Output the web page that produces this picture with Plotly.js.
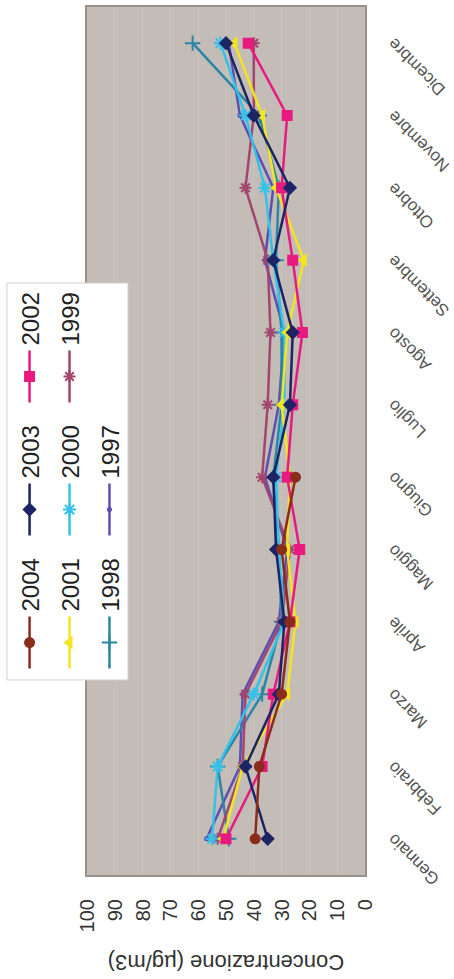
<!DOCTYPE html>
<html><head><meta charset="utf-8">
<script src="https://cdn.plot.ly/plotly-3.0.1.min.js"></script>
<style>
html,body{margin:0;padding:0;background:#fff;overflow:hidden;width:454px;height:979px;}
#chart{position:absolute;left:0;top:0;width:979px;height:454px;transform-origin:0 0;transform:translate(0,979px) rotate(-90deg);}
</style></head><body><div id="chart"></div><script>
var months = ["Gennaio","Febbraio","Marzo","Aprile","Maggio","Giugno","Luglio","Agosto","Settembre","Ottobre","Novembre","Dicembre"];
var y1997 = [57, 45, 44, 31, 28, 36, 31, 29, 36, 33, 45, 49];
var y1998 = [49, 53, 37, 30, 31, 33, 30, 30, 32, 31, 38, 62];
var y1999 = [53, 44, 43, 30, 27, 37, 35, 34, 35, 43, 40, 40];
var y2000 = [55, 53, 40, 29, 31, 32, 29, 29, 33, 36, 43, 52];
var y2001 = [51, 44, 28, 25, 28, 27, 30, 28, 22, 32, 37, 47];
var y2002 = [50, 37, 33, 27, 23.5, 28, 26, 22.5, 26, 30, 28, 42];
var y2003 = [35, 43, 31, 29, 32, 33, 27, 26, 33, 27, 40, 50];
var y2004 = [39.5, 38, 30, 27, 30, 25, null, null, null, null, null, null];
var yTicks = [0,10,20,30,40,50,60,70,80,90,100];

function tr(name, y, color, symbol, size, legend, rank, open) {
  var m = {symbol: symbol, size: size, color: color};
  if (open) m.line = {color: color, width: 2};
  return {type:'scatter', mode:'lines+markers', name:name, x:months, y:y,
    line:{color:color, width:2.5}, marker:m, legend:legend, legendrank:rank, connectgaps:false};
}
var data = [
  tr('1997', y1997, '#5b4fb3', 'circle', 5, 'legend3', 8),
  tr('1998', y1998, '#2b86a6', 'cross-thin-open', 11, 'legend3', 7, true),
  tr('1999', y1999, '#a3456e', 'asterisk-open', 10, 'legend2', 6, true),
  tr('2000', y2000, '#33c3ea', 'asterisk-open', 11, 'legend2', 5, true),
  tr('2001', y2001, '#f3e520', 'triangle-up', 12, 'legend2', 4),
  tr('2002', y2002, '#e8197f', 'square', 11, 'legend', 3),
  tr('2003', y2003, '#1c2466', 'diamond', 11, 'legend', 2),
  tr('2004', y2004, '#8a2c1c', 'circle', 11, 'legend', 1)
];
var font = 'Liberation Sans, Arial, sans-serif';
function lg(y) {
  return {orientation:'h', xref:'container', yref:'container', x:0.312, y:y, xanchor:'left', yanchor:'middle',
    bgcolor:'rgba(0,0,0,0)', borderwidth:0, entrywidth:66, entrywidthmode:'pixels', itemwidth:52,
    font:{family:font, size:24, color:'#222'}, traceorder:'normal'};
}
var layout = {
  width:979, height:454,
  margin:{l:104, r:7, t:87, b:89, autoexpand:false},
  paper_bgcolor:'#ffffff', plot_bgcolor:'#c4bcb6',
  font:{family:font},
  showlegend:true,
  legend: lg(0.934), legend2: lg(0.846), legend3: lg(0.758),
  xaxis:{type:'category', range:[-0.5, 11.5], showgrid:false, tickangle:-45,
    tickfont:{family:font, size:17, color:'#555'}, ticks:'', ticklabelstandoff:10,
    showline:true, mirror:true, linecolor:'#9a918b', linewidth:2, zeroline:false},
  yaxis:{range:[0,100], tickvals:yTicks, ticktext:yTicks.map(String), showgrid:true,
    gridcolor:'rgba(255,255,255,0.10)', gridwidth:1,
    tickfont:{family:font, size:20, color:'#333'}, ticks:'', ticklabelstandoff:18,
    showline:true, mirror:true, linecolor:'#9a918b', linewidth:2, zeroline:false,
    title:{text:'Concentrazione (µg/m3)', font:{family:font, size:22, color:'#333'}, standoff:16}},
  shapes:[{type:'rect', xref:'paper', yref:'paper', x0:0.2247, x1:0.682, y0:0.8525, y1:1.288,
    fillcolor:'#ffffff', line:{color:'#d0d0d0', width:1}, layer:'above'}]
};
Plotly.newPlot('chart', data, layout, {staticPlot:true, displayModeBar:false});
</script></body></html>
